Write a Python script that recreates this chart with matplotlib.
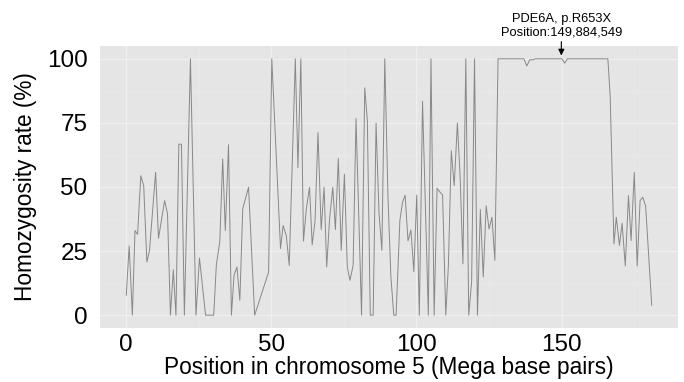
import matplotlib
matplotlib.use("Agg")
import matplotlib.pyplot as plt
import numpy as np

# position on chromosome 5 (Mb) and homozygosity rate (%)
pos = [0.1, 1.1, 2.2, 3.1, 4.0, 5.1, 6.1, 7.2, 8.1, 10.2, 11.2, 13.3, 14.3, 15.3, 16.3, 17.2,
       18.2, 19.1, 20.1, 22.2, 24.1, 25.3, 27.4, 30.2, 31.1, 32.3, 33.3, 34.2, 35.3, 36.3,
       37.2, 38.2, 39.2, 40.2, 42.2, 44.3, 49.1, 50.2, 53.2, 54.1, 55.2, 56.2, 58.3, 59.2,
       60.2, 61.1, 62.1, 63.2, 64.1, 65.1, 66.1, 67.2, 68.2, 69.1, 70.1, 71.2, 72.1, 73.1,
       74.1, 75.2, 76.2, 77.1, 78.2, 79.2, 80.1, 81.1, 82.2, 83.1, 84.1, 85.1, 86.1, 87.1,
       88.1, 89.1, 90.2, 91.2, 92.2, 93.0, 94.3, 95.2, 96.1, 97.1, 98.1, 99.1, 100.1, 101.0,
       102.1, 104.1, 105.0, 106.1, 107.1, 108.1, 109.0, 110.1, 111.0, 112.0, 113.0, 114.1,
       115.1, 116.0, 117.0, 118.0, 119.0, 120.0, 121.0, 122.0, 123.0, 124.0, 125.0, 126.0,
       127.0, 128.1, 131.0, 134.0, 137.0, 138.0, 139.0, 140.0, 141.0, 145.0, 150.1, 151.0,
       152.0, 156.0, 160.0, 165.9, 166.7, 168.0, 168.8, 169.9, 170.8, 171.9, 173.0, 173.9,
       175.0, 176.0, 177.0, 177.9, 178.9, 181.0]
rate = [7.8, 27, 0, 33, 31.5, 54.4, 50.5, 20.7, 25.3, 55.7, 30, 44.7, 39.5, 0, 17.7, 0,
        66.7, 66.7, 0, 100, 0, 22.3, 0, 0, 19.4, 28.8, 60.9, 33, 66.5, 0,
        15.5, 18.8, 5.8, 41.5, 49.9, 0, 16.8, 100, 26, 35, 31, 19.4, 100, 57.6,
        100, 28.9, 41.5, 49.9, 27.5, 36.9, 71.2, 33.4, 49.9, 18.8, 37.6, 49.9, 33.4, 61.1,
        25.3, 55, 18.8, 13.6, 19.4, 76.7, 40.2, 0, 88.7, 76, 0, 0, 74.9, 40,
        25.3, 100, 46, 15, 0, 0, 37, 44, 46.8, 29, 33.2, 17, 46.8, 0,
        83.4, 0, 100, 0, 49.5, 48, 46.9, 0, 19.4, 64.1, 50.5, 74.9,
        52.5, 20, 100, 0, 13, 100, 0, 41.2, 14.9, 42.7, 33.6, 38.2,
        21.4, 100, 100, 100, 100, 97.2, 99.6, 99.6, 100, 100, 100, 98.3,
        100, 100, 100, 100, 85.5, 27.8, 38.2, 27.2, 35.9, 19.2, 46.6, 29.1,
        55.7, 19.2, 44.7, 46, 42.7, 3.9]

x_ticks = [0, 50, 100, 150]
y_ticks = [0, 25, 50, 75, 100]
mutation_pos = 149.884549
mutation_label = "PDE6A, p.R653X\nPosition:149,884,549"

plt.rcParams['font.family'] = ['Liberation Sans', 'DejaVu Sans']

fig, ax = plt.subplots(figsize=(6.84, 3.82), dpi=100)
fig.subplots_adjust(left=0.1462, right=0.9912, top=0.8796, bottom=0.1414)

ax.set_facecolor('#e5e5e5')
ax.plot(pos, rate, color='#888888', linewidth=0.7)

# ggplot style limits (5% expansion)
xr = max(pos) - min(pos)
ax.set_xlim(min(pos) - 0.05 * xr, max(pos) + 0.05 * xr)
ax.set_ylim(-5, 105)

ax.set_xticks(x_ticks)
ax.set_yticks(y_ticks)
ax.set_xticks([25, 75, 125, 175], minor=True)
ax.set_yticks([12.5, 37.5, 62.5, 87.5], minor=True)
ax.grid(True, which='major', color='#efefef', linewidth=1.0)
ax.grid(True, which='minor', color='#eaeaea', linewidth=0.5)
ax.set_axisbelow(True)
for s in ax.spines.values():
    s.set_visible(False)
ax.tick_params(which='both', length=0)
ax.tick_params(axis='both', labelsize=17.5, colors='black')
ax.tick_params(axis='x', pad=4)
ax.tick_params(axis='y', pad=9)

ax.set_xlabel('Position in chromosome 5 (Mega base pairs)', fontsize=16.3, labelpad=0)
ax.set_ylabel('Homozygosity rate (%)', fontsize=16.3, labelpad=7)

ax.annotate(mutation_label, xy=(mutation_pos, 101.3), xytext=(mutation_pos, 107.8),
            ha='center', va='bottom', fontsize=9.3, linespacing=1.25,
            annotation_clip=False,
            arrowprops=dict(arrowstyle='-|>', color='black', lw=0.8, mutation_scale=9,
                            shrinkA=0, shrinkB=0))

plt.savefig('out.png', dpi=100)
